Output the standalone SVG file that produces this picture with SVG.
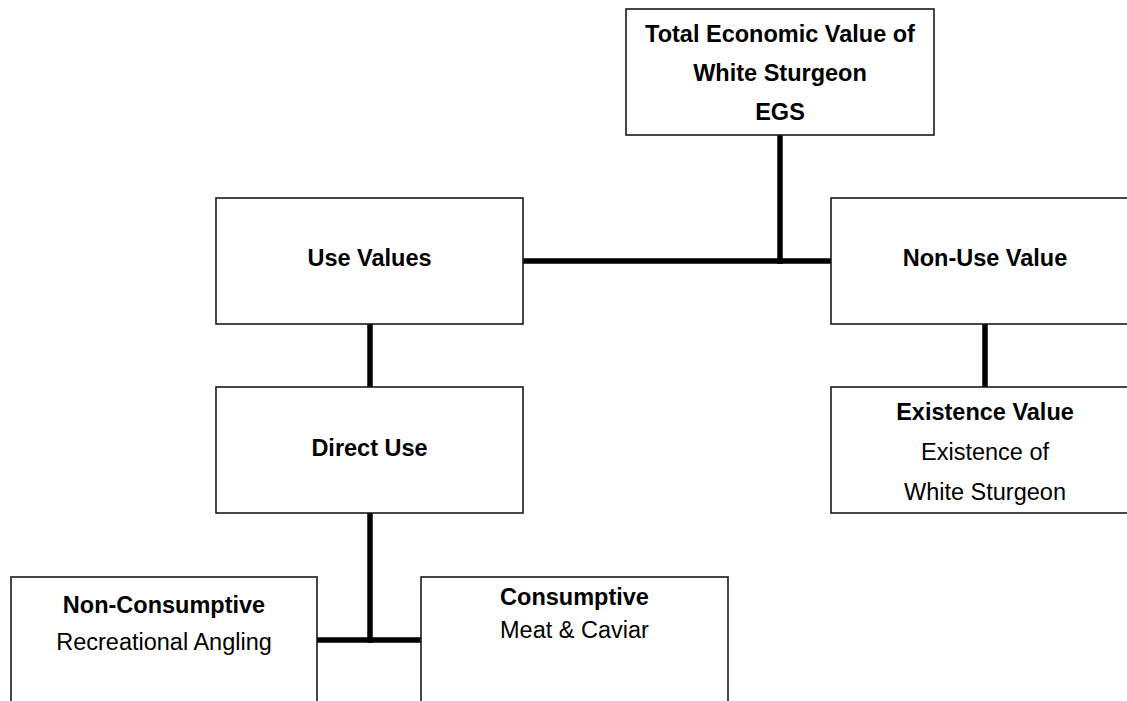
<svg xmlns="http://www.w3.org/2000/svg" width="1127" height="701" viewBox="0 0 1127 701">
<style>
.box{fill:#fff;stroke:#1a1a1a;stroke-width:1.6}
.conn line{stroke:#000;stroke-width:5.5}
text{font-family:"Liberation Sans",Arial,sans-serif;font-size:23.5px;fill:#000;text-anchor:middle}
.b{font-weight:bold}
</style>
<rect width="1127" height="701" fill="#fff"/>
<g id="connectors" class="conn">
<line x1="780" y1="135" x2="780" y2="264"/>
<line x1="523" y1="261" x2="831" y2="261"/>
<line x1="370" y1="324" x2="370" y2="387"/>
<line x1="985" y1="324" x2="985" y2="387"/>
<line x1="370" y1="513" x2="370" y2="643"/>
<line x1="317" y1="640" x2="421" y2="640"/>
</g>
<g id="total">
<rect class="box" x="626" y="9" width="308" height="126"/>
<text class="b" x="780" y="42">Total Economic Value of</text>
<text class="b" x="780" y="81">White Sturgeon</text>
<text class="b" x="780" y="120">EGS</text>
</g>
<g id="use-values">
<rect class="box" x="216" y="198" width="307" height="126"/>
<text class="b" x="369.5" y="266">Use Values</text>
</g>
<g id="non-use-value">
<rect class="box" x="831" y="198" width="307" height="126"/>
<text class="b" x="985" y="266">Non-Use Value</text>
</g>
<g id="direct-use">
<rect class="box" x="216" y="387" width="307" height="126"/>
<text class="b" x="369.5" y="456">Direct Use</text>
</g>
<g id="existence-value">
<rect class="box" x="831" y="387" width="307" height="126"/>
<text class="b" x="985" y="420">Existence Value</text>
<text x="985" y="460">Existence of</text>
<text x="985" y="500">White Sturgeon</text>
</g>
<g id="non-consumptive">
<rect class="box" x="11" y="577" width="306" height="200"/>
<text class="b" x="164" y="613">Non-Consumptive</text>
<text x="164" y="650">Recreational Angling</text>
</g>
<g id="consumptive">
<rect class="box" x="421" y="577" width="307" height="200"/>
<text class="b" x="574.5" y="605">Consumptive</text>
<text x="574.5" y="638">Meat &amp; Caviar</text>
</g>
</svg>
